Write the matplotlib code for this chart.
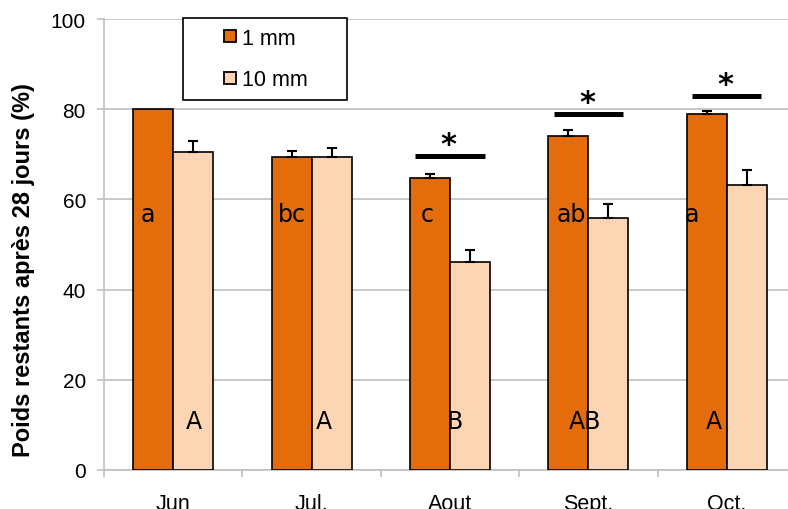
import numpy as np
import matplotlib
matplotlib.use("Agg")
import matplotlib.pyplot as plt
from matplotlib.patches import Patch, Rectangle
from matplotlib.legend_handler import HandlerPatch

# ---- data ----
months = ["Jun", "Jul.", "Aout", "Sept.", "Oct."]
series_names = ["1 mm", "10 mm"]
vals_1mm = [80.1, 69.5, 64.7, 74.1, 78.9]
err_1mm = [0.0, 1.3, 0.9, 1.3, 0.8]
vals_10mm = [70.4, 69.5, 46.1, 55.9, 63.3]
err_10mm = [2.6, 1.8, 2.7, 3.1, 3.2]
letters_1mm = ["a", "bc", "c", "ab", "a"]
letters_10mm = ["A", "A", "B", "AB", "A"]
signif = [False, False, True, True, True]
signif_level = [None, None, 69.7, 78.9, 82.9]
yticks = [0, 20, 40, 60, 80, 100]

# ---- style ----
c_orange = "#E46C0A"
c_peach = "#FCD5B5"
grid_c = "#C0C0C0"
plt.rcParams["font.family"] = ["Liberation Sans", "DejaVu Sans"]

fig = plt.figure(figsize=(7.88, 5.10), dpi=100)
ax = fig.add_axes([104 / 788, 1 - 471 / 510, 692 / 788, 451 / 510])

x = np.arange(len(months))
w = 0.289
ax.bar(x - w / 2, vals_1mm, w, color=c_orange, edgecolor="black", linewidth=1.2, zorder=3)
ax.bar(x + w / 2, vals_10mm, w, color=c_peach, edgecolor="black", linewidth=1.2, zorder=3)

for xs, v, e in ((x - w / 2, vals_1mm, err_1mm), (x + w / 2, vals_10mm, err_10mm)):
    v = np.array(v); e = np.array(e)
    m = e > 0
    ax.errorbar(xs[m], v[m], yerr=[np.zeros(m.sum()), e[m]], fmt="none",
                ecolor="black", elinewidth=1.5, capsize=3.8, capthick=1.5, zorder=4)

# letters inside bars
low_off = [-0.186, -0.144, -0.166, -0.123, -0.253]
up_off = [0.152, 0.087, 0.036, -0.022, -0.094]
for i in range(len(months)):
    ax.text(x[i] + low_off[i], 55.2, letters_1mm[i], ha="center", va="baseline",
            fontsize=17, family="DejaVu Sans", zorder=5)
    ax.text(x[i] + up_off[i], 9.3, letters_10mm[i], ha="center", va="baseline",
            fontsize=17, family="DejaVu Sans", zorder=5)

# significance markers
for i in range(len(months)):
    if signif[i]:
        yl = signif_level[i]
        ax.plot([x[i] - 0.25, x[i] + 0.25], [yl, yl], color="black", lw=3.6,
                solid_capstyle="butt", zorder=5, clip_on=False)
        ax.text(x[i] - 0.01, yl + 0.6, "*", ha="center", va="baseline",
                fontsize=22, fontweight="bold", family="DejaVu Sans", zorder=5)

ax.set_ylim(0, 100)
ax.set_xlim(-0.5, 4.5)
ax.set_yticks(yticks)
ax.set_yticklabels([str(t) for t in yticks], fontsize=15)
ax.yaxis.grid(True, color=grid_c, lw=1.2, zorder=0)
ax.set_axisbelow(True)
ax.tick_params(axis="y", length=5, width=1.2, color=grid_c, pad=8)

ax.set_xticks(np.arange(-0.5, 5.0, 1.0))
ax.set_xticklabels([])
ax.set_xticks(x, minor=True)
ax.set_xticklabels(months, minor=True, fontsize=15.5)
ax.tick_params(axis="x", which="major", length=5, width=1.2, color=grid_c)
ax.tick_params(axis="x", which="minor", length=0, pad=16.5)

for s in ("top", "right"):
    ax.spines[s].set_visible(False)
for s in ("left", "bottom"):
    ax.spines[s].set_color(grid_c)
    ax.spines[s].set_linewidth(1.2)

ax.set_ylabel("Poids restants après 28 jours (%)", fontsize=17, fontweight="bold")
ax.yaxis.set_label_coords(35 / 788, (471 + 20) / 2 / 510 - 0.01, transform=fig.transFigure)


def make_sq(legend, orig_handle, xdescent, ydescent, width, height, fontsize):
    s = 8.6
    return Rectangle((width - s - xdescent, (height - s) / 2 - ydescent), s, s)


handles = [Patch(facecolor=c_orange, edgecolor="black", linewidth=1.3, label=series_names[0]),
           Patch(facecolor=c_peach, edgecolor="black", linewidth=1.3, label=series_names[1])]
leg = ax.legend(handles=handles, loc="upper left", mode="expand",
                bbox_to_anchor=((183 - 104) / 692, 0.5, 164 / 692, 0.502),
                borderaxespad=0, fontsize=15.5, frameon=True, fancybox=False,
                edgecolor="black", borderpad=0.45, handlelength=2.0,
                handletextpad=0.3, labelspacing=0.95,
                handler_map={Patch: HandlerPatch(patch_func=make_sq)})
leg.get_frame().set_linewidth(1.2)
leg.get_frame().set_alpha(1)
leg.set_zorder(6)

fig.savefig("out.png", dpi=100)
